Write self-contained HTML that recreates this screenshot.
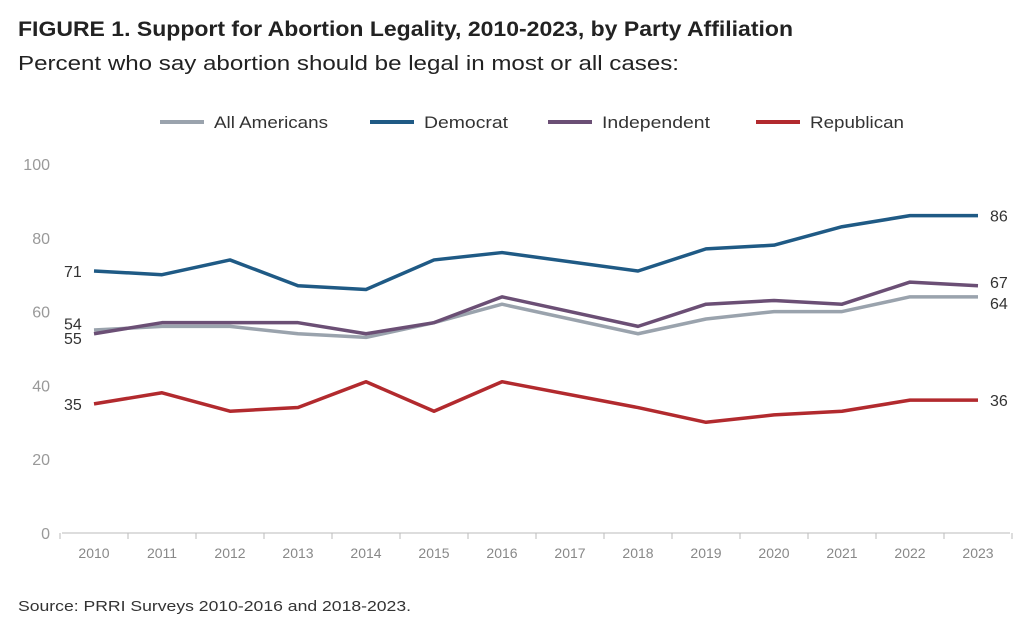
<!DOCTYPE html>
<html><head><meta charset="utf-8"><style>
body{margin:0;background:#fff;font-family:"Liberation Sans",sans-serif;}
</style></head><body>
<svg width="1032" height="637" viewBox="0 0 1032 637" xmlns="http://www.w3.org/2000/svg">
<text x="18" y="36" font-size="21" font-weight="bold" fill="#222" textLength="775" lengthAdjust="spacingAndGlyphs">FIGURE 1. Support for Abortion Legality, 2010-2023, by Party Affiliation</text>
<text x="18" y="70" font-size="20" fill="#222" textLength="661" lengthAdjust="spacingAndGlyphs">Percent who say abortion should be legal in most or all cases:</text>
<g id="legend"></g>
<g id="axes"></g>
<g id="series"></g>
<text x="18" y="611" font-size="15" fill="#333" textLength="393" lengthAdjust="spacingAndGlyphs">Source: PRRI Surveys 2010-2016 and 2018-2023.</text>
</svg>
<script>
const years=[2010,2011,2012,2013,2014,2015,2016,2017,2018,2019,2020,2021,2022,2023];
const allAmericans=[55,56,56,54,53,57,62,null,54,58,60,60,64,64];
const democrat=[71,70,74,67,66,74,76,null,71,77,78,83,86,86];
const independent=[54,57,57,57,54,57,64,null,56,62,63,62,68,67];
const republican=[35,38,33,34,41,33,41,null,34,30,32,33,36,36];
const yTicks=[0,20,40,60,80,100];
const NS="http://www.w3.org/2000/svg";
const X=i=>94+i*68, Y=v=>533-v*3.69;
function mk(t,a,p){const e=document.createElementNS(NS,t);for(const k in a)e.setAttribute(k,a[k]);p.appendChild(e);return e;}
const axes=document.getElementById('axes'),ser=document.getElementById('series'),leg=document.getElementById('legend');
let l=mk('line',{x1:62,x2:1010,y1:533,y2:533,stroke:'#bbb','stroke-width':1},axes);


for(let i=0;i<=years.length;i++){const t=mk('line',{x1:X(i)-34,x2:X(i)-34,y1:533,y2:539,stroke:'#bbb'},axes);

}
years.forEach((y,i)=>{const t=mk('text',{x:X(i),y:558,'font-size':14,fill:'#888','text-anchor':'middle'},axes);t.textContent=y;

});
yTicks.forEach(v=>{const t=mk('text',{x:50,y:Y(v)+6,'font-size':16,fill:'#999','text-anchor':'end'},axes);t.textContent=v;

});
const series=[['All Americans',allAmericans,'#9aa3ad'],['Democrat',democrat,'#1f5a85'],['Independent',independent,'#6b4f75'],['Republican',republican,'#b22a2e']];
const legX=[160,370,548,756];
const legW=[114,84,108,94];
series.forEach((s,k)=>{
 const ln=mk('line',{x1:legX[k],x2:legX[k]+44,y1:122,y2:122,stroke:s[2],'stroke-width':4},leg);
 
 
 const t=mk('text',{x:legX[k]+54,y:128,'font-size':17,fill:'#333',textLength:legW[k],lengthAdjust:'spacingAndGlyphs'},leg);t.textContent=s[0];
 
 
 let d='';s[1].forEach((v,i)=>{if(v==null)return;d+=(d?'L':'M')+X(i)+','+Y(v);});
 const p=mk('path',{d:d,fill:'none',stroke:s[2],'stroke-width':3.5,'stroke-linejoin':'round'},ser);
 
 
});
function label(x,y,txt,anchor){const t=mk('text',{x:x,y:y,'font-size':16,fill:'#333','text-anchor':anchor},ser);t.textContent=txt;

}
const n=years.length-1;
label(64,Y(democrat[0])+6,democrat[0],'start');
label(64,Y(republican[0])+6,republican[0],'start');
label(64,Y(independent[0])-4,independent[0],'start');
label(64,Y(allAmericans[0])+14,allAmericans[0],'start');
label(990,Y(democrat[n])+6,democrat[n],'start');
label(990,Y(independent[n])+2,independent[n],'start');
label(990,Y(allAmericans[n])+12,allAmericans[n],'start');
label(990,Y(republican[n])+6,republican[n],'start');
</script>
</body></html>
